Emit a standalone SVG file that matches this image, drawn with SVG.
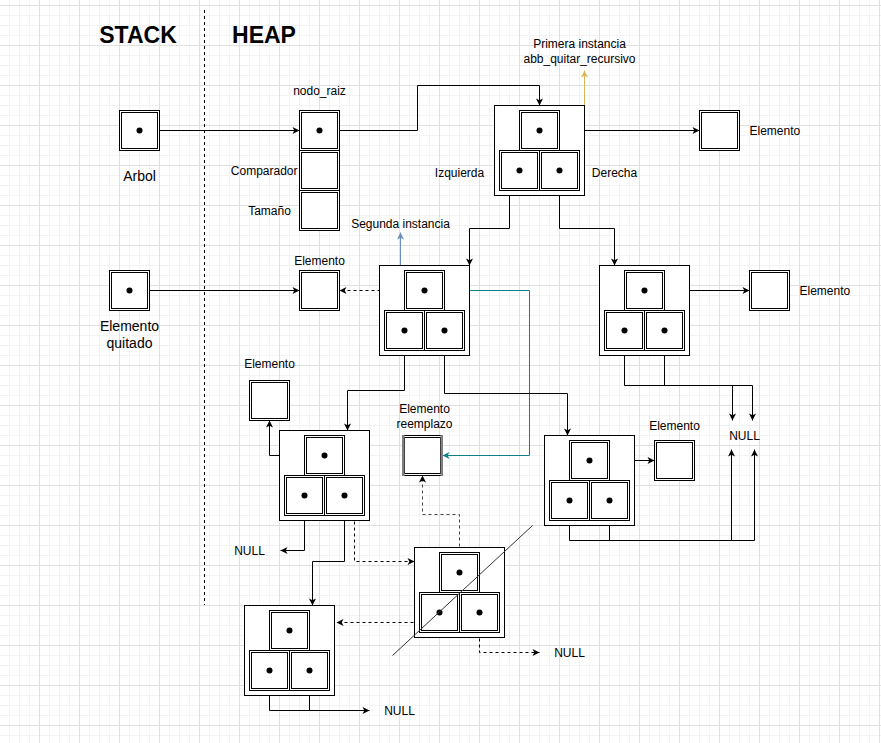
<svg xmlns="http://www.w3.org/2000/svg" xmlns:xlink="http://www.w3.org/1999/xlink" width="881" height="743" viewBox="0 0 881 743">
<style>
  .ln{fill:none;stroke:#000;stroke-width:1}
  .dash{stroke-dasharray:3 3}
  .box{fill:#fff;stroke:#000;stroke-width:1}
  .ibox{fill:none;stroke:#000;stroke-width:1}
  .dot{fill:#000}
  text{font-family:"Liberation Sans",Arial,Helvetica,sans-serif;fill:#000}
  .t12{font-size:12px}
  .t14{font-size:14px}
  .big{font-size:23px;font-weight:bold}
  .mid{text-anchor:middle}
</style>
<defs>
  <pattern id="grid" x="0" y="5" width="40" height="40" patternUnits="userSpaceOnUse">
    <path d="M9.5,0V40M19.5,0V40M29.5,0V40M0,10.5H40M0,20.5H40M0,30.5H40" stroke="#f3f3f3" stroke-width="1" fill="none"/>
    <path d="M39.5,0V40M0,0.5H40" stroke="#e0e0e0" stroke-width="1" fill="none"/>
  </pattern>
  <marker id="ab" markerUnits="userSpaceOnUse" markerWidth="10" markerHeight="10" refX="7" refY="3.5" orient="auto" overflow="visible">
    <path d="M0,0L7,3.5L0,7L1.8,3.5Z" fill="#000"/>
  </marker>
  <marker id="ag" markerUnits="userSpaceOnUse" markerWidth="10" markerHeight="10" refX="7" refY="3.5" orient="auto" overflow="visible">
    <path d="M0,0L7,3.5L0,7L1.8,3.5Z" fill="#d6b656"/>
  </marker>
  <marker id="abl" markerUnits="userSpaceOnUse" markerWidth="10" markerHeight="10" refX="7" refY="3.5" orient="auto" overflow="visible">
    <path d="M0,0L7,3.5L0,7L1.8,3.5Z" fill="#6c8ebf"/>
  </marker>
  <marker id="at" markerUnits="userSpaceOnUse" markerWidth="10" markerHeight="10" refX="7" refY="3.5" orient="auto" overflow="visible">
    <path d="M0,0L7,3.5L0,7L1.8,3.5Z" fill="#0e8088"/>
  </marker>
  <g id="dbox">
    <rect class="box" x="0" y="0" width="40" height="40"/>
    <rect class="ibox" x="2" y="2" width="36" height="36"/>
  </g>
  <g id="tnode">
    <rect class="box" x="0" y="0" width="90" height="90"/>
    <use xlink:href="#dbox" x="25" y="5"/>
    <use xlink:href="#dbox" x="5" y="45"/>
    <use xlink:href="#dbox" x="45" y="45"/>
    <circle class="dot" cx="45" cy="25" r="3"/>
    <circle class="dot" cx="25" cy="65" r="3"/>
    <circle class="dot" cx="65" cy="65" r="3"/>
  </g>
</defs>
<rect x="0" y="0" width="881" height="743" fill="#fff"/>
<rect x="0" y="0" width="881" height="743" fill="url(#grid)"/>

<g id="titles">
  <text class="big mid" x="138" y="43">STACK</text>
  <text class="big mid" x="264" y="43">HEAP</text>
</g>
<line id="separator" x1="204.5" y1="10" x2="204.5" y2="605" stroke="#000" stroke-dasharray="3 3"/>

<g transform="translate(0.5,0.5)">
<g id="connectors">
  <path class="ln" d="M159,130H299" marker-end="url(#ab)"/>
  <path class="ln" d="M339,130H417V85H539V105" marker-end="url(#ab)"/>
  <path class="ln" d="M584,105V70" style="stroke:#d6b656" marker-end="url(#ag)"/>
  <path class="ln" d="M559,130H699" marker-end="url(#ab)"/>
  <path class="ln" d="M509,190V228H469V265" marker-end="url(#ab)"/>
  <path class="ln" d="M559,190V228H614V265" marker-end="url(#ab)"/>
  <path class="ln" d="M400,265V232" style="stroke:#6c8ebf" marker-end="url(#abl)"/>
  <path class="ln" d="M149,290H299" marker-end="url(#ab)"/>
  <path class="ln dash" d="M404,290H339" marker-end="url(#ab)"/>
  <path class="ln" d="M444,290H529V455H442" style="stroke:#0e8088" marker-end="url(#at)"/>
  <path class="ln" d="M404,350V390H347V430" marker-end="url(#ab)"/>
  <path class="ln" d="M444,350V393H567V435" marker-end="url(#ab)"/>
  <path class="ln" d="M664,290H749" marker-end="url(#ab)"/>
  <path class="ln" d="M624,350V385H752V420" marker-end="url(#ab)"/>
  <path class="ln" d="M664,350V385"/>
  <path class="ln" d="M732,385V420" marker-end="url(#ab)"/>
  <path class="ln" d="M304,455H269V420" marker-end="url(#ab)"/>
  <path class="ln" d="M304,515V550H280" marker-end="url(#ab)"/>
  <path class="ln" d="M344,515V561H312V605" marker-end="url(#ab)"/>
  <path class="ln dash" d="M354,515V561H414" marker-end="url(#ab)"/>
  <path class="ln dash" d="M459,552V514H422V475" style="stroke:#444" marker-end="url(#ab)"/>
  <path class="ln dash" d="M419,622H336" marker-end="url(#ab)"/>
  <path class="ln dash" d="M479,632V652H539" marker-end="url(#ab)"/>
  <path class="ln" d="M269,695V710H369" marker-end="url(#ab)"/>
  <path class="ln" d="M309,695V710"/>
  <path class="ln" d="M609,460H654" marker-end="url(#ab)"/>
  <path class="ln" d="M569,520V540H754V449" marker-end="url(#ab)"/>
  <path class="ln" d="M609,520V540"/>
  <path class="ln" d="M731,540V449" marker-end="url(#ab)"/>
</g>

<g id="arbol">
  <use xlink:href="#dbox" x="119" y="110"/>
  <circle class="dot" cx="139" cy="130" r="3"/>
  <text class="t14 mid" x="139" y="180">Arbol</text>
</g>
<g id="abb">
  <use xlink:href="#dbox" x="299" y="110"/>
  <use xlink:href="#dbox" x="299" y="150"/>
  <use xlink:href="#dbox" x="299" y="190"/>
  <circle class="dot" cx="319" cy="130" r="3"/>
  <text class="t12 mid" x="319" y="94">nodo_raiz</text>
  <text class="t12" x="297" y="174" text-anchor="end">Comparador</text>
  <text class="t12 mid" x="269" y="214">Tamaño</text>
</g>
<g id="nodo-raiz">
  <use xlink:href="#tnode" x="494" y="105"/>
  <text class="t12 mid" x="459" y="176">Izquierda</text>
  <text class="t12 mid" x="614" y="176">Derecha</text>
</g>
<g id="primera-instancia">
  <text class="t12 mid" x="579" y="47">Primera instancia</text>
  <text class="t12 mid" x="579" y="62">abb_quitar_recursivo</text>
</g>
<g id="elemento-raiz">
  <use xlink:href="#dbox" x="699" y="110"/>
  <text class="t12" x="749" y="134">Elemento</text>
</g>
<g id="segunda-instancia">
  <text class="t12 mid" x="400" y="227">Segunda instancia</text>
</g>
<g id="elemento-quitado">
  <use xlink:href="#dbox" x="109" y="270"/>
  <circle class="dot" cx="129" cy="290" r="3"/>
  <text class="t14 mid" x="129" y="330">Elemento</text>
  <text class="t14 mid" x="129" y="347">quitado</text>
</g>
<g id="elemento-n2">
  <use xlink:href="#dbox" x="299" y="270"/>
  <text class="t12 mid" x="319" y="264">Elemento</text>
</g>
<g id="nodo-2">
  <use xlink:href="#tnode" x="379" y="265"/>
</g>
<g id="nodo-3">
  <use xlink:href="#tnode" x="599" y="265"/>
</g>
<g id="elemento-n3">
  <use xlink:href="#dbox" x="749" y="270"/>
  <text class="t12" x="799" y="294">Elemento</text>
</g>
<g id="elemento-n4">
  <use xlink:href="#dbox" x="249" y="380"/>
  <text class="t12 mid" x="269" y="367">Elemento</text>
</g>
<g id="elemento-reemplazo">
  <use xlink:href="#dbox" x="402" y="435"/>
  <rect x="401.5" y="434.5" width="2.5" height="41" fill="#808080"/>
  <rect x="440" y="434.5" width="2.5" height="41" fill="#808080"/>
  <text class="t12 mid" x="424" y="412">Elemento</text>
  <text class="t12 mid" x="424" y="427">reemplazo</text>
</g>
<g id="nodo-4">
  <use xlink:href="#tnode" x="279" y="430"/>
</g>
<g id="nodo-5">
  <use xlink:href="#tnode" x="544" y="435"/>
</g>
<g id="elemento-n5">
  <use xlink:href="#dbox" x="654" y="440"/>
  <text class="t12 mid" x="674" y="429">Elemento</text>
</g>
<g id="null-n3">
  <text class="t12 mid" x="744" y="439">NULL</text>
</g>
<g id="null-n4">
  <text class="t12 mid" x="249" y="554">NULL</text>
</g>
<g id="nodo-7">
  <use xlink:href="#tnode" x="414" y="547"/>
</g>
<g id="nodo-6">
  <use xlink:href="#tnode" x="244" y="605"/>
</g>
<g id="null-n7">
  <text class="t12 mid" x="569" y="656">NULL</text>
</g>
<g id="null-n6">
  <text class="t12 mid" x="399" y="714">NULL</text>
</g>
<g id="tachado">
  <path d="M392,655L532,525" fill="none" stroke="#333" stroke-width="1"/>
</g>
</g>
</svg>
